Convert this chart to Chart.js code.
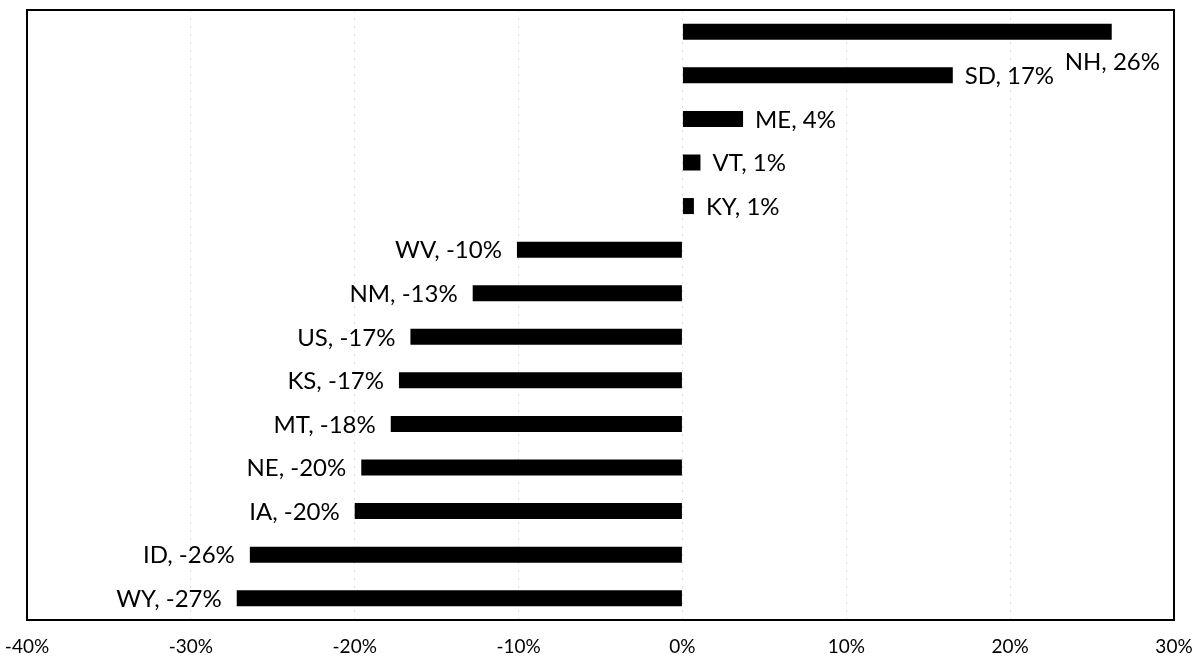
<!DOCTYPE html>
<html>
<head>
<meta charset="utf-8">
<script src="https://cdn.jsdelivr.net/npm/chart.js@4"></script>
<style>
html,body{margin:0;padding:0;background:#fff;}
#wrap{width:1197px;height:661px;}
</style>
</head>
<body>
<div id="wrap"><canvas id="c" width="1197" height="661"></canvas></div>
<script>
const categories = ["NH","SD","ME","VT","KY","WV","NM","US","KS","MT","NE","IA","ID","WY"];
const values = [26.2, 16.5, 3.7, 1.1, 0.7, -10.1, -12.8, -16.6, -17.3, -17.8, -19.6, -20.0, -26.4, -27.2];
const valueLabels = ["26%","17%","4%","1%","1%","-10%","-13%","-17%","-17%","-18%","-20%","-20%","-26%","-27%"];
const xTicks = [-40,-30,-20,-10,0,10,20,30];

const FONT = "Lato, 'Open Sans', sans-serif";

const labelPlugin = {
  id: 'barLabels',
  afterDatasetsDraw(chart) {
    const ctx = chart.ctx;
    const meta = chart.getDatasetMeta(0);
    const area = chart.chartArea;
    ctx.save();
    ctx.font = "24px " + FONT;
    ctx.fillStyle = "#000";
    ctx.textBaseline = "middle";
    meta.data.forEach((bar, i) => {
      const text = categories[i] + ", " + valueLabels[i];
      const v = values[i];
      const w = ctx.measureText(text).width;
      if (v >= 0) {
        const x = bar.x + 12;
        if (x + w > area.right - 8) {
          ctx.textAlign = "right";
          ctx.fillText(text, area.right - 14, bar.y + 30);
        } else {
          ctx.textAlign = "left";
          ctx.fillText(text, x, bar.y + 1);
        }
      } else {
        ctx.textAlign = "right";
        ctx.fillText(text, bar.x - 15, bar.y + 1);
      }
    });
    ctx.restore();
  }
};

const borderPlugin = {
  id: 'plotBorder',
  afterDraw(chart) {
    const a = chart.chartArea;
    const ctx = chart.ctx;
    ctx.save();
    ctx.strokeStyle = "#000";
    ctx.lineWidth = 2;
    ctx.strokeRect(a.left, a.top, a.right - a.left, a.bottom - a.top);
    ctx.restore();
  }
};

new Chart(document.getElementById('c'), {
  type: 'bar',
  data: {
    labels: categories,
    datasets: [{
      data: values,
      backgroundColor: '#000',
      borderWidth: 0,
      barPercentage: 0.75,
      categoryPercentage: 0.49
    }]
  },
  options: {
    indexAxis: 'y',
    responsive: false,
    animation: false,
    devicePixelRatio: 1,
    layout: { padding: { left: 27, right: 23, top: 10, bottom: 3 } },
    plugins: { legend: { display: false }, tooltip: { enabled: false } },
    scales: {
      x: {
        min: -40, max: 30,
        afterBuildTicks(scale) { scale.ticks = xTicks.map(v => ({ value: v })); },
        afterFit(scale) { scale.paddingLeft = 0; scale.paddingRight = 0; scale.height = 38; },
        ticks: {
          color: '#000',
          font: { size: 19, family: FONT },
          padding: 15,
          callback: v => v + "%"
        },
        grid: {
          color: 'rgba(0,0,0,0.13)',
          lineWidth: 1,
          drawTicks: false
        },
        border: { display: false, dash: [2, 6] }
      },
      y: {
        display: false,
        grid: { display: false }
      }
    }
  },
  plugins: [labelPlugin, borderPlugin]
});
</script>
</body>
</html>
